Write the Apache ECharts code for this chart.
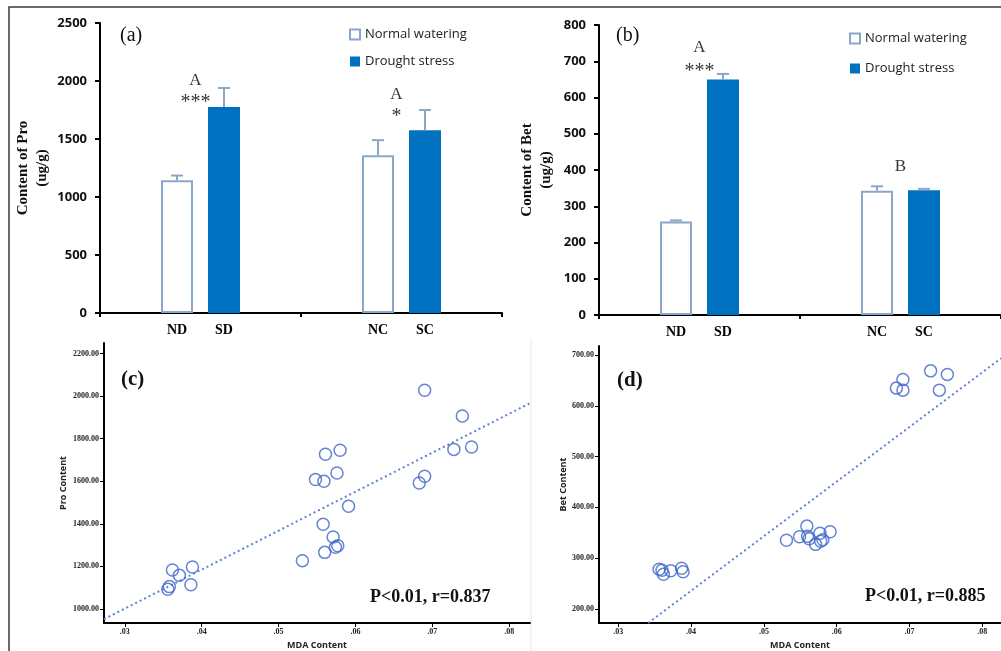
<!DOCTYPE html>
<html><head><meta charset="utf-8">
<script src="https://cdn.jsdelivr.net/npm/echarts@6/dist/echarts.min.js"></script>
<style>html,body{margin:0;padding:0;background:#fff}#c{width:1001px;height:651px}</style>
</head><body><div id="c"></div>
<script>
// ---------- data ----------
const groups = ['D', 'C'];
const normalNames = ['ND', 'NC'];
const droughtNames = ['SD', 'SC'];
const seriesNames = ['Normal watering', 'Drought stress'];

const proNormal = [1145, 1360];
const proNormalErr = [40, 130];
const proDrought = [1775, 1575];
const proDroughtErr = [165, 175];

const betNormal = [258, 343];
const betNormalErr = [3, 12];
const betDrought = [650, 344];
const betDroughtErr = [15, 4];

// significance annotations (group index, value position, text)
const annAGroup = [0, 0, 1, 1];
const annAValue = [2005, 1815, 1880, 1695];
const annAText = ['A', '***', 'A', '*'];
const annBGroup = [0, 0, 1];
const annBValue = [738, 672, 410];
const annBText = ['A', '***', 'B'];

// scatter (c): MDA vs Pro
const mdaC = [0.0362,0.0388,0.0371,0.0386,0.0358,0.0356,0.0690,0.0739,0.0580,0.0561,0.0728,0.0751,0.0576,0.0548,0.0559,0.0690,0.0683,0.0591,0.0558,0.0571,0.0577,0.0574,0.0560,0.0531];
const proC = [1183,1197,1158,1114,1105,1093,2028,1907,1746,1727,1750,1761,1639,1608,1600,1624,1592,1483,1398,1338,1297,1290,1266,1227];
const fitCx = [0.0273, 0.0827];
const fitCy = [952, 1967];

// scatter (d): MDA vs Bet
const mdaD = [0.0356,0.0360,0.0362,0.0372,0.0387,0.0389,0.0729,0.0752,0.0691,0.0682,0.0691,0.0741,0.0559,0.0591,0.0577,0.0549,0.0560,0.0562,0.0581,0.0578,0.0571,0.0531];
const betD = [278,276,268,275,280,273,669,662,652,635,631,631,363,352,349,342,343,338,336,333,327,335];
const fitDx = [0.0341, 0.0826];
const fitDy = [172, 694];

// tick labels
const mdaTickValues = [0.03, 0.04, 0.05, 0.06, 0.07, 0.08];
const mdaTickLabels = ['.03', '.04', '.05', '.06', '.07', '.08'];
const proTickValues = [1000, 1200, 1400, 1600, 1800, 2000, 2200];
const proTickLabels = ['1000.00', '1200.00', '1400.00', '1600.00', '1800.00', '2000.00', '2200.00'];
const betTickValues = [200, 300, 400, 500, 600, 700];
const betTickLabels = ['200.00', '300.00', '400.00', '500.00', '600.00', '700.00'];

// ---------- style ----------
const SERIF = '"Liberation Serif", "Times New Roman", serif';
const SANS = '"Open Sans", "Liberation Sans", sans-serif';
const BLUE = '#0070C0';
const EDGE = '#8aa6c8';
const DOT = '#3f66c8';
const BAR_W = 32, BAR_GAP = 15;
const OFF = (BAR_W + BAR_GAP) / 2;

function mapLabel(vals, labels) {
  return v => { const i = vals.findIndex(t => Math.abs(t - v) < 1e-9); return i >= 0 ? labels[i] : ''; };
}
function errRender(offset) {
  return function (params, api) {
    const cat = api.value(0), lo = api.value(1), hi = api.value(2);
    const a = api.coord([cat, lo]), b = api.coord([cat, hi]);
    const x = a[0] + offset;
    return { type: 'group', children: [
      { type: 'line', shape: { x1: x, y1: a[1], x2: x, y2: b[1] }, style: { stroke: EDGE, lineWidth: 2 } },
      { type: 'line', shape: { x1: x - 6, y1: b[1], x2: x + 6, y2: b[1] }, style: { stroke: EDGE, lineWidth: 2 } }
    ] };
  };
}
function errData(mean, err) { return mean.map((m, i) => [i, m, m + err[i]]); }
function barSeries(name, vals, names, xi, normal) {
  return {
    type: 'bar', name, xAxisIndex: xi, yAxisIndex: xi, data: vals,
    barWidth: BAR_W, barGap: (BAR_GAP / BAR_W * 100) + '%',
    itemStyle: normal ? { color: '#ffffff', borderColor: EDGE, borderWidth: 2 } : { color: BLUE, borderColor: BLUE, borderWidth: 0 },
    label: { show: true, position: 'bottom', distance: 10, formatter: p => names[p.dataIndex],
      fontFamily: SERIF, fontWeight: 'bold', fontSize: 14, color: '#000' }
  };
}
function annSeries(xi, g, v, t, dx) {
  return {
    type: 'scatter', xAxisIndex: xi, yAxisIndex: xi, symbolSize: 1,
    itemStyle: { color: 'rgba(255,255,255,0)' },
    data: g.map((gi, i) => ({ value: [gi, v[i]], name: t[i],
      label: { fontSize: /[A-Z]/.test(t[i]) ? 17 : 20 } })),
    label: { show: true, position: 'inside', offset: [dx, 0], formatter: p => p.name,
      fontFamily: SERIF, color: '#000', textBorderWidth: 0 }, z: 5
  };
}
function barXAxis(gi) {
  return { type: 'category', gridIndex: gi, data: groups,
    axisLine: { lineStyle: { color: '#000', width: 2 } },
    axisTick: { show: true, length: 4, lineStyle: { color: '#000', width: 2 } },
    axisLabel: { show: false } };
}
function barYAxis(gi, max, interval, name, gap) {
  return { type: 'value', gridIndex: gi, min: 0, max, interval, splitLine: { show: false },
    axisLine: { show: true, lineStyle: { color: '#000', width: 2 } },
    axisTick: { show: true, length: 5, lineStyle: { color: '#000', width: 2 } },
    axisLabel: { margin: 13, formatter: v => String(v), fontFamily: SANS, fontWeight: 'bold', fontSize: 13, color: '#111' },
    name, nameLocation: 'middle', nameGap: gap, nameRotate: 90,
    nameTextStyle: { fontFamily: SERIF, fontWeight: 'bold', fontSize: 15, color: '#111', lineHeight: 19 } };
}
function scX(gi, min, max) {
  return { type: 'value', gridIndex: gi, min, max, splitLine: { show: false },
    axisLine: { show: true, onZero: false, lineStyle: { color: '#000', width: 2 } },
    axisTick: { show: true, length: 4, customValues: mdaTickValues, lineStyle: { color: '#000', width: 1 } },
    axisLabel: { customValues: mdaTickValues, formatter: mapLabel(mdaTickValues, mdaTickLabels), margin: 5,
      fontFamily: SERIF, fontWeight: 'bold', fontSize: 8, color: '#222' },
    name: 'MDA Content', nameLocation: 'middle', nameGap: 18,
    nameTextStyle: { fontFamily: SANS, fontWeight: 'bold', fontSize: 9, color: '#222' } };
}
function scY(gi, min, max, vals, labels, name, gap) {
  return { type: 'value', gridIndex: gi, min, max, splitLine: { show: false },
    axisLine: { show: true, onZero: false, lineStyle: { color: '#000', width: 2 } },
    axisTick: { show: true, length: 4, customValues: vals, lineStyle: { color: '#000', width: 1 } },
    axisLabel: { customValues: vals, formatter: mapLabel(vals, labels), margin: 5,
      fontFamily: SERIF, fontWeight: 'bold', fontSize: 8, color: '#222' },
    name, nameLocation: 'middle', nameGap: gap, nameRotate: 90,
    nameTextStyle: { fontFamily: SANS, fontWeight: 'bold', fontSize: 9, color: '#222' } };
}
function scatterSeries(gi, xs, ys) {
  return { type: 'scatter', xAxisIndex: gi, yAxisIndex: gi, symbol: 'circle', symbolSize: 12,
    itemStyle: { color: 'rgba(255,255,255,0)', borderColor: DOT, borderWidth: 1.5 },
    data: xs.map((x, i) => [x, ys[i]]), z: 4 };
}
function fitSeries(gi, xs, ys) {
  return { type: 'line', xAxisIndex: gi, yAxisIndex: gi, symbol: 'none',
    lineStyle: { color: '#5a82d8', width: 2, type: [2, 3] },
    data: xs.map((x, i) => [x, ys[i]]), z: 3 };
}
function legend(left, top, gap) {
  return { data: seriesNames, orient: 'vertical', left, top, itemWidth: 10, itemHeight: 10, itemGap: gap,
    selectedMode: false, icon: 'rect', textStyle: { fontFamily: SANS, fontSize: 13, color: '#222' } };
}

const chart = echarts.init(document.getElementById('c'), null, { renderer: 'canvas' });
chart.setOption({
  animation: false,
  backgroundColor: '#ffffff',
  grid: [
    { left: 100, top: 23, width: 402, height: 290 },
    { left: 599, top: 25, width: 402, height: 290 },
    { left: 104, top: 343, width: 426, height: 280 },
    { left: 599, top: 346, width: 402, height: 277 }
  ],
  legend: [legend(344, 23, 14), legend(844, 27, 17)],
  xAxis: [barXAxis(0), barXAxis(1), scX(2, 0.0273, 0.0827), scX(3, 0.02735, 0.08257)],
  yAxis: [
    barYAxis(0, 2500, 500, 'Content of Pro\n(ug/g)', 48),
    barYAxis(1, 800, 100, 'Content of Bet\n(ug/g)', 43),
    scY(2, 934, 2250, proTickValues, proTickLabels, 'Pro Content', 36),
    scY(3, 172, 718, betTickValues, betTickLabels, 'Bet Content', 29)
  ],
  series: [
    barSeries(seriesNames[0], proNormal, normalNames, 0, true),
    barSeries(seriesNames[1], proDrought, droughtNames, 0, false),
    barSeries(seriesNames[0], betNormal, normalNames, 1, true),
    barSeries(seriesNames[1], betDrought, droughtNames, 1, false),
    { type: 'custom', xAxisIndex: 0, yAxisIndex: 0, renderItem: errRender(-OFF), data: errData(proNormal, proNormalErr), z: 3 },
    { type: 'custom', xAxisIndex: 0, yAxisIndex: 0, renderItem: errRender(OFF), data: errData(proDrought, proDroughtErr), z: 3 },
    { type: 'custom', xAxisIndex: 1, yAxisIndex: 1, renderItem: errRender(-OFF), data: errData(betNormal, betNormalErr), z: 3 },
    { type: 'custom', xAxisIndex: 1, yAxisIndex: 1, renderItem: errRender(OFF), data: errData(betDrought, betDroughtErr), z: 3 },
    annSeries(0, annAGroup, annAValue, annAText, -5),
    annSeries(1, annBGroup, annBValue, annBText, 0),
    fitSeries(2, fitCx, fitCy),
    scatterSeries(2, mdaC, proC),
    fitSeries(3, fitDx, fitDy),
    scatterSeries(3, mdaD, betD)
  ],
  graphic: [
    { type: 'rect', silent: true, shape: { x: 9, y: 7, width: 1100, height: 800 }, style: { fill: 'none', stroke: '#3a3a3a', lineWidth: 1.5 } },
    { type: 'line', silent: true, shape: { x1: 531, y1: 338, x2: 531, y2: 651 }, style: { stroke: '#e8e8e8', lineWidth: 1 } },
    { type: 'text', left: 120, top: 26, style: { text: '(a)', fontFamily: SERIF, fontSize: 20, fill: '#111' } },
    { type: 'text', left: 616, top: 26, style: { text: '(b)', fontFamily: SERIF, fontSize: 20, fill: '#111' } },
    { type: 'text', left: 121, top: 369, style: { text: '(c)', fontFamily: SERIF, fontWeight: 'bold', fontSize: 21, fill: '#111' } },
    { type: 'text', left: 617, top: 370, style: { text: '(d)', fontFamily: SERIF, fontWeight: 'bold', fontSize: 21, fill: '#111' } },
    { type: 'text', left: 370, top: 588, style: { text: 'P<0.01, r=0.837', fontFamily: SERIF, fontWeight: 'bold', fontSize: 18, fill: '#111' } },
    { type: 'text', left: 865, top: 587, style: { text: 'P<0.01, r=0.885', fontFamily: SERIF, fontWeight: 'bold', fontSize: 18, fill: '#111' } }
  ]
});
</script></body></html>
